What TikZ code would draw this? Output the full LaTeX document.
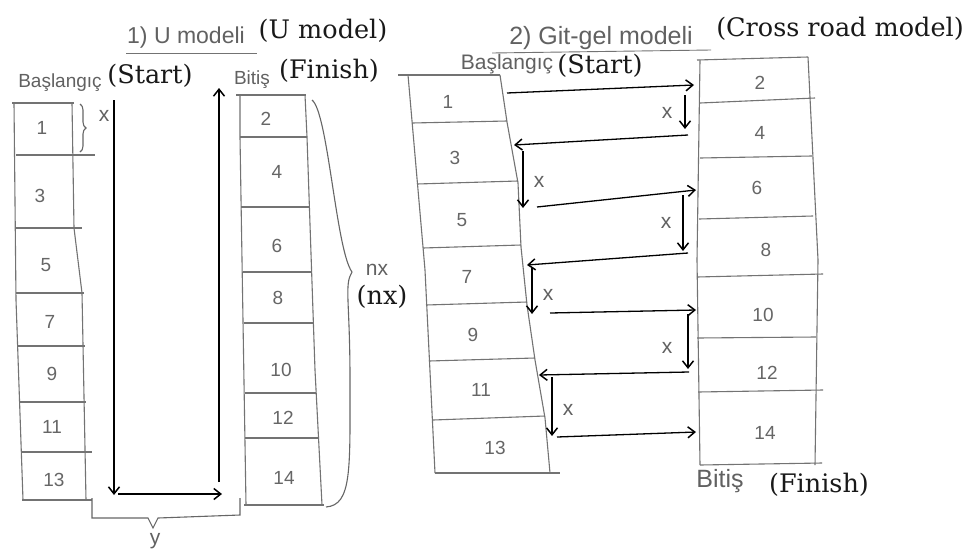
\documentclass[tikz,border=0pt]{standalone}
\usepackage{fontspec}
\setmainfont{DejaVu Serif}
\newfontfamily\hand{Liberation Sans}
\usetikzlibrary{arrows.meta,decorations.pathreplacing}
\begin{document}
\begin{tikzpicture}[x=1pt,y=-1pt,
  cell/.style={draw=black!55, line width=1.1pt},
  flow/.style={draw=black, line width=2pt, -{Straight Barb[length=7pt,width=11pt,line width=1.5pt]}},
  hflow/.style={flow, line width=1.3pt},
  hw/.style={font=\hand\fontsize{21}{21}\selectfont, text=black!62, inner sep=0pt},
  num/.style={font=\hand\fontsize{19}{19}\selectfont, text=black!60, inner sep=0pt},
  lbl/.style={font=\fontsize{25.5}{25.5}\selectfont, text=black!90, inner sep=0pt},
  brc/.style={draw=black!60, line width=1.1pt},
]
\fill[white] (0,0) rectangle (968,552);
\useasboundingbox (0,0) rectangle (968,552);

% ---------------- U model ----------------
\node[hw, font=\hand\fontsize{23}{23}\selectfont] (ut) at (186,38) {1) U modeli};
\draw[black!55, line width=0.9pt] (126,53) -- (257,53);
\node[lbl] (um) at (323,31) {(U model)};
\node[hw, font=\hand\fontsize{19}{19}\selectfont] (ubs) at (60,83) {Başlangıç};
\node[lbl] (ust) at (150,76) {(Start)};
\node[hw, font=\hand\fontsize{19}{19}\selectfont] (ubt) at (252,80) {Bitiş};
\node[lbl] (ufi) at (329,71) {(Finish)};

% left column (odd)
\draw[cell] (12,103) -- (74,103);
\draw[cell] (14,103) -- (16,300) -- (23,500);
\draw[cell] (72,103) -- (74,228) -- (82,293) -- (86,500);
\draw[cell] (16,155) -- (95,155);
\draw[cell] (16,228) -- (82,228);
\draw[cell] (16,293) -- (84,293);
\draw[cell] (17,346) -- (85,346);
\draw[cell] (19,402) -- (86,402);
\draw[cell] (21,452) -- (92,452);
\draw[cell] (22,500) -- (92,500);
\node[num] (c1) at (42,128) {1};
\node[num] (c3) at (40,196) {3};
\node[num] (c5) at (46,265) {5};
\node[num] (c7) at (50,322) {7};
\node[num] (c9) at (52,374) {9};
\node[num] (c11) at (52,427) {11};
\node[num] (c13) at (54,480) {13};
\draw[brc, decorate, decoration={brace, amplitude=6pt}] (80,104) -- (80,152);
\node[hw] (ux) at (104,116) {x};

% right column (even)
\draw[cell] (236,95) -- (306,95);
\draw[cell] (240,95) -- (240,137) -- (246,505);
\draw[cell] (305,95) -- (307,137) -- (315,370) -- (322,505);
\draw[cell] (240,137) -- (307,137);
\draw[cell] (241,207) -- (310,207);
\draw[cell] (243,272) -- (311,272);
\draw[cell] (244,323) -- (313,323);
\draw[cell] (245,393) -- (316,393);
\draw[cell] (245,438) -- (319,438);
\draw[cell] (244,505) -- (324,505);
\node[num] (c2) at (266,119) {2};
\node[num] (c4) at (277,172) {4};
\node[num] (c6) at (277,246) {6};
\node[num] (c8) at (278,298) {8};
\node[num] (c10) at (281,370) {10};
\node[num] (c12) at (283,418) {12};
\node[num] (c14) at (284,478) {14};

% U path
\coordinate (uA) at (114,100);
\coordinate (uB) at (114,495);
\coordinate (uC) at (118,494);
\coordinate (uD) at (222,494);
\coordinate (uE) at (219,482);
\coordinate (uF) at (219,88);
\draw[flow] (uA) -- (uB);
\draw[hflow] (uC) -- (uD);
\draw[flow] (uE) -- (uF);

% nx brace
\coordinate (nxT) at (312,100);
\coordinate (nxM) at (352,272);
\coordinate (nxB) at (326,507);
\draw[brc] (nxT) .. controls (328,112) and (336,250) .. (nxM)
           .. controls (344,285) and (350,300) .. (350,380)
           .. controls (350,470) and (352,505) .. (nxB);
\node[hw] (nx) at (377,270) {nx};
\node[lbl] (nxl) at (382,297) {(nx)};

% y brace
\coordinate (yL) at (92,498);
\coordinate (yR) at (240,498);
\draw[brc] (yL) -- (92,518) -- (148,518) -- (153,528) -- (158,518) -- (240,515) -- (yR);
\node[hw] (yl) at (155,541) {y};

% ---------------- Cross road model ----------------
\node[hw, font=\hand\fontsize{25}{25}\selectfont] (ct) at (601,38) {2) Git-gel modeli};
\draw[black!55, line width=0.9pt] (492,53) -- (711,50);
\node[lbl] (cm) at (840,29) {(Cross road model)};
\node[hw] (cbs) at (507,64) {Başlangıç};
\node[lbl] (cst) at (600,66) {(Start)};
\node[hw, font=\hand\fontsize{25}{25}\selectfont] (cbt) at (720,481) {Bitiş};
\node[lbl] (cfi) at (819,485) {(Finish)};

% left column (odd), slanted
\draw[cell] (398,75) -- (500,75);
\draw[cell] (408,75) -- (425,270) -- (435,473);
\draw[cell] (500,75) -- (507,122) -- (518,183) -- (521,247) -- (527,305) -- (535,360) -- (545,418) -- (550,473);
\draw[cell] (412,123) -- (507,121);
\draw[cell] (417,184) -- (518,181);
\draw[cell] (423,248) -- (521,245);
\draw[cell] (426,305) -- (527,302);
\draw[cell] (429,361) -- (535,358);
\draw[cell] (433,420) -- (545,416);
\draw[cell] (435,473) -- (560,473);
\node[num] (d1) at (448,102) {1};
\node[num] (d3) at (455,158) {3};
\node[num] (d5) at (462,220) {5};
\node[num] (d7) at (467,277) {7};
\node[num] (d9) at (473,335) {9};
\node[num] (d11) at (481,390) {11};
\node[num] (d13) at (495,448) {13};

% right column (even)
\draw[cell] (697,60) -- (808,57);
\draw[cell] (700,60) -- (697,260) -- (700,465);
\draw[cell] (808,57) -- (818,260) -- (815,465);
\draw[cell] (700,103) -- (815,98);
\draw[cell] (700,158) -- (812,156);
\draw[cell] (699,219) -- (813,216);
\draw[cell] (697,277) -- (823,274);
\draw[cell] (697,338) -- (816,337);
\draw[cell] (698,392) -- (823,390);
\draw[cell] (700,465) -- (822,463);
\node[num] (d2) at (760,83) {2};
\node[num] (d4) at (760,133) {4};
\node[num] (d6) at (757,188) {6};
\node[num] (d8) at (766,250) {8};
\node[num] (d10) at (763,315) {10};
\node[num] (d12) at (767,373) {12};
\node[num] (d14) at (765,433) {14};

% zig-zag path
\coordinate (p1) at (507,93);  \coordinate (q1) at (694,85);
\coordinate (v1a) at (685,95); \coordinate (v1b) at (685,129);
\coordinate (p2) at (688,135); \coordinate (q2) at (514,145);
\coordinate (v2a) at (523,151); \coordinate (v2b) at (523,208);
\coordinate (p3) at (537,207); \coordinate (q3) at (696,190);
\coordinate (v3a) at (683,195); \coordinate (v3b) at (683,251);
\coordinate (p4) at (688,253); \coordinate (q4) at (527,265);
\coordinate (v4a) at (532,267); \coordinate (v4b) at (532,314);
\coordinate (p5) at (550,313); \coordinate (q5) at (696,310);
\coordinate (v5a) at (688,314); \coordinate (v5b) at (688,369);
\coordinate (p6) at (689,372); \coordinate (q6) at (539,375);
\coordinate (v6a) at (552,377); \coordinate (v6b) at (552,436);
\coordinate (p7) at (557,437); \coordinate (q7) at (696,432);

\draw[hflow] (p1) -- (q1);
\draw[flow] (v1a) -- (v1b);
\draw[hflow] (p2) -- (q2);
\draw[flow] (v2a) -- (v2b);
\draw[hflow] (p3) -- (q3);
\draw[flow] (v3a) -- (v3b);
\draw[hflow] (p4) -- (q4);
\draw[flow] (v4a) -- (v4b);
\draw[hflow] (p5) -- (q5);
\draw[flow] (v5a) -- (v5b);
\draw[hflow] (p6) -- (q6);
\draw[flow] (v6a) -- (v6b);
\draw[hflow] (p7) -- (q7);

\node[hw] (x1) at (667,113) {x};
\node[hw] (x2) at (539,182) {x};
\node[hw] (x3) at (666,223) {x};
\node[hw] (x4) at (548,295) {x};
\node[hw] (x5) at (667,348) {x};
\node[hw] (x6) at (568,410) {x};
\end{tikzpicture}
\end{document}
